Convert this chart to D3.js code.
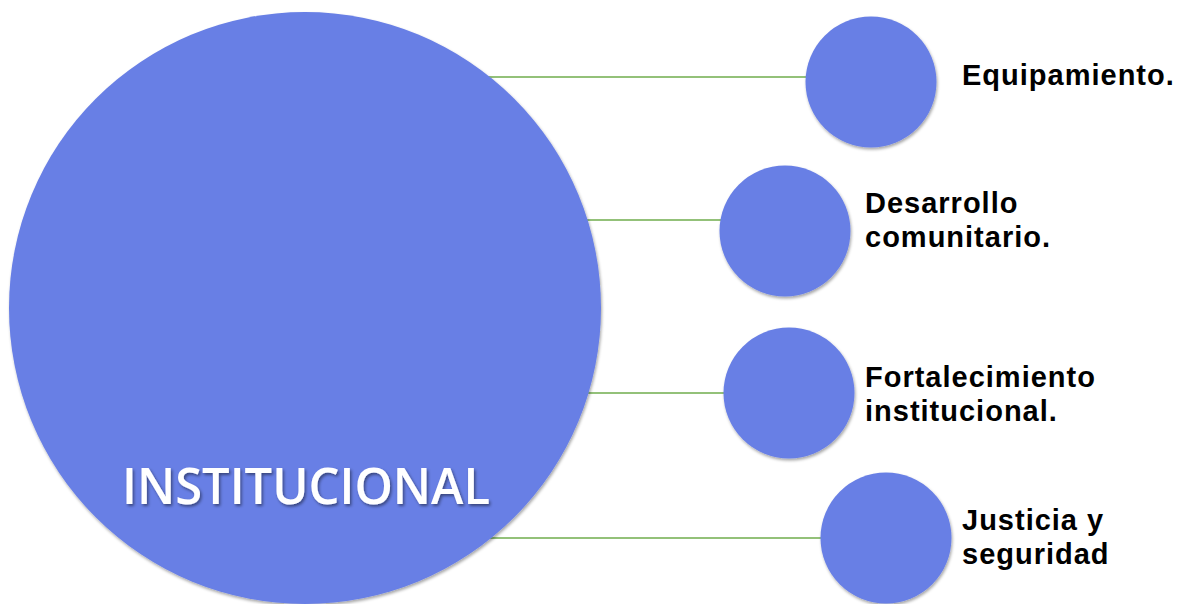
<!DOCTYPE html>
<html>
<head>
<meta charset="utf-8">
<script src="https://cdn.jsdelivr.net/npm/d3@7"></script>
<style>
  html, body { margin: 0; padding: 0; background: #fff; }
  svg { display: block; }
</style>
</head>
<body>
<div id="chart"></div>
<script>
// data
var centralLabel = "INSTITUCIONAL";
var branchNames = ["Equipamiento", "Desarrollo comunitario", "Fortalecimiento institucional", "Justicia y seguridad"];
var branchLabelLines = [
    ["Equipamiento."],
    ["Desarrollo", "comunitario."],
    ["Fortalecimiento", "institucional."],
    ["Justicia y", "seguridad"]
];

// layout (pixels)
var layout = {
    width: 1182, height: 604,
    hub: { cx: 305, cy: 308, r: 296 },
    nodeR: 65.5,
    nodeCx: [871, 785, 789, 886],
    nodeCy: [82, 231, 393, 538],
    linkY: [77, 220, 393, 538],
    labelX: [962, 865, 865, 962],
    labelY: [85, 213, 387, 530],
    lineHeight: 33.5
};

var fill = "#687fe5";
var linkColor = "#6fac4c";

var svg = d3.select("#chart").append("svg")
    .attr("width", layout.width)
    .attr("height", layout.height);

var defs = svg.append("defs");
defs.append("filter").attr("id", "circleShadow")
    .attr("x", "-10%").attr("y", "-10%").attr("width", "125%").attr("height", "125%")
    .append("feDropShadow")
    .attr("dx", 1).attr("dy", 2).attr("stdDeviation", 1.6)
    .attr("flood-color", "#000").attr("flood-opacity", 0.35);
defs.append("filter").attr("id", "textShadow")
    .attr("x", "-10%").attr("y", "-30%").attr("width", "120%").attr("height", "160%")
    .append("feDropShadow")
    .attr("dx", 1.5).attr("dy", 2).attr("stdDeviation", 1.5)
    .attr("flood-color", "#000").attr("flood-opacity", 0.45);

// index based lookups for the nodes
var idx = d3.scaleOrdinal().domain(branchNames).range(d3.range(branchNames.length));

var nodes = branchNames.map(function(name, i) {
    return { name: name, lines: branchLabelLines[i] };
});

// connectors (drawn first, sit behind the circles)
svg.selectAll("line.link")
    .data(nodes)
    .enter()
    .append("line")
    .attr("class", "link")
    .attr("x1", layout.hub.cx)
    .attr("x2", function(d) { return layout.nodeCx[idx(d.name)]; })
    .attr("y1", function(d) { return layout.linkY[idx(d.name)]; })
    .attr("y2", function(d) { return layout.linkY[idx(d.name)]; })
    .attr("stroke", linkColor)
    .attr("stroke-width", 1.6);

// hub circle
svg.append("circle")
    .attr("cx", layout.hub.cx)
    .attr("cy", layout.hub.cy)
    .attr("r", layout.hub.r)
    .attr("fill", fill)
    .attr("filter", "url(#circleShadow)");

svg.append("text")
    .attr("x", layout.hub.cx + 1)
    .attr("y", 504)
    .attr("text-anchor", "middle")
    .attr("font-family", "'Open Sans', sans-serif")
    .attr("font-weight", 600)
    .attr("font-size", 50)
    .attr("textLength", 368)
    .attr("lengthAdjust", "spacingAndGlyphs")
    .attr("fill", "#fff")
    .attr("filter", "url(#textShadow)")
    .text(centralLabel);

// branch circles
svg.selectAll("circle.node")
    .data(nodes)
    .enter()
    .append("circle")
    .attr("class", "node")
    .attr("cx", function(d) { return layout.nodeCx[idx(d.name)]; })
    .attr("cy", function(d) { return layout.nodeCy[idx(d.name)]; })
    .attr("r", layout.nodeR)
    .attr("fill", fill)
    .attr("filter", "url(#circleShadow)");

// branch labels
var labels = svg.selectAll("text.label")
    .data(nodes)
    .enter()
    .append("text")
    .attr("class", "label")
    .attr("font-family", "'Liberation Sans', Arial, sans-serif")
    .attr("font-weight", "bold")
    .attr("font-size", 29)
    .attr("letter-spacing", 1)
    .attr("fill", "#000");

labels.selectAll("tspan")
    .data(function(d) {
        var i = idx(d.name);
        return d.lines.map(function(t, k) { return { text: t, i: i, k: k }; });
    })
    .enter()
    .append("tspan")
    .attr("x", function(d) { return layout.labelX[d.i]; })
    .attr("y", function(d) { return layout.labelY[d.i] + d.k * layout.lineHeight; })
    .text(function(d) { return d.text; });
</script>
</body>
</html>
